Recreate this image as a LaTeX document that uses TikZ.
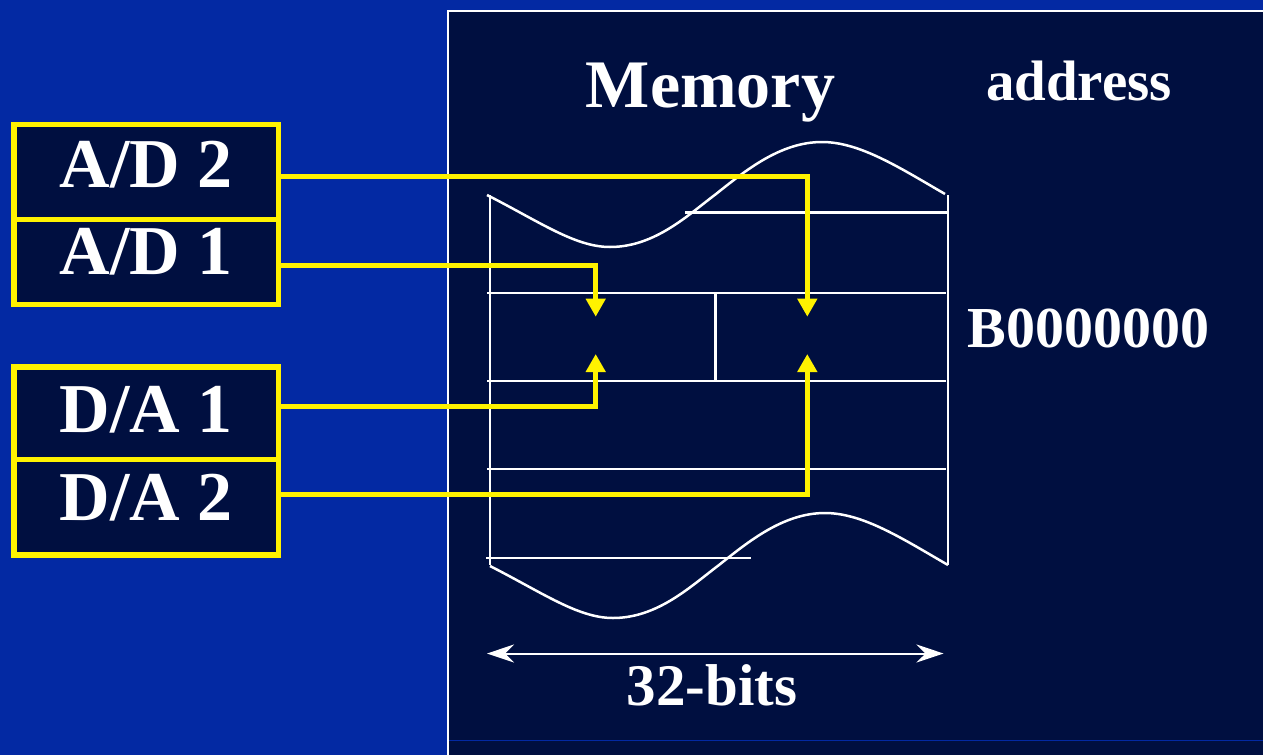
\documentclass[tikz,border=0pt]{standalone}
\usepackage{fontspec}
\setmainfont{Liberation Serif}
\usetikzlibrary{arrows.meta}
\definecolor{bgblue}{RGB}{3,41,163}
\definecolor{panel}{RGB}{0,15,64}
\begin{document}
\begin{tikzpicture}[x=1pt,y=-1pt,
  box/.style={draw=yellow, line width=5.5pt, fill=panel, text=white, minimum width=264.5pt,
    inner sep=0pt, font=\fontsize{70}{80}\selectfont\bfseries, text height=46pt},
  wire/.style={draw=yellow, line width=5pt, line join=miter, -{Triangle[width=19pt,length=18pt]}},
  mem/.style={draw=white, line width=2.5pt},
  lbl/.style={text=white, anchor=base, inner sep=0pt},
]
\useasboundingbox (0,0) rectangle (1263,755);
\fill[bgblue] (0,0) rectangle (1263,755);
% memory panel
\fill[panel] (448,11) rectangle (1263,755);
\draw[white, line width=2pt] (448,755) -- (448,11) -- (1263,11);
\draw[bgblue, line width=1pt] (449,740) -- (1263,740);

% memory drawing
\draw[mem] (487,195) .. controls (540,222) and (575,247) .. (610,247)
  .. controls (655,247) and (688,215) .. (716,194)
  .. controls (745,171) and (780,142) .. (822,142)
  .. controls (860,142) and (900,168) .. (945,194);
\draw[mem, shift={(3,371)}] (487,195) .. controls (540,222) and (575,247) .. (610,247)
  .. controls (655,247) and (688,215) .. (716,194)
  .. controls (745,171) and (780,142) .. (822,142)
  .. controls (860,142) and (900,168) .. (945,194);
\draw[mem] (490,195) -- (490,565);
\draw[mem] (948,195) -- (948,565);
\draw[mem] (685,212.5) -- (948,212.5);
\draw[mem] (487,293) -- (946,293);
\draw[mem] (487,381) -- (946,381);
\draw[mem] (487,469) -- (946,469);
\draw[mem] (486,558) -- (751,558);
\draw[mem] (715.5,293) -- (715.5,381);

% texts
\node[lbl, font=\fontsize{68}{80}\selectfont\bfseries] (memt) at (710.5,107) {Memory};
\node[lbl, font=\fontsize{57}{68}\selectfont\bfseries] (addr) at (1079,100) {address};
\node[lbl, font=\fontsize{58}{68}\selectfont\bfseries] (baddr) at (1088.5,347) {B0000000};
\node[lbl, font=\fontsize{59}{68}\selectfont\bfseries] (bits) at (712,705) {32-bits};
\coordinate (bl) at (487,653.5);
\coordinate (br) at (943.5,653.5);
\draw[white, line width=2pt, {Stealth[length=27pt,width=18pt,inset=9pt]}-{Stealth[length=27pt,width=18pt,inset=9pt]}] (bl) -- (br);

% converter boxes
\node[box, minimum height=95pt, text depth=16pt] (ad2) at (146.25,172) {A/D 2};
\node[box, minimum height=85pt, text depth=22pt] (ad1) at (146.25,262) {A/D 1};
\node[box, minimum height=92.5pt, text depth=7pt] (da1) at (146.25,413.25) {D/A 1};
\node[box, minimum height=95.5pt, text depth=19pt] (da2) at (146.25,507.25) {D/A 2};

% arrow targets
\coordinate (tAD2) at (807.3,316.7);
\coordinate (tAD1) at (595.7,316.7);
\coordinate (tDA1) at (595.7,354);
\coordinate (tDA2) at (807.3,354);

\draw[wire] ([yshift=-4.7pt]ad2.east) -| (tAD2);
\draw[wire] ([yshift=-3.5pt]ad1.east) -| (tAD1);
\draw[wire] ([yshift=7.25pt]da1.east) -| (tDA1);
\draw[wire] ([yshift=12.5pt]da2.east) -| (tDA2);
\end{tikzpicture}
\end{document}
